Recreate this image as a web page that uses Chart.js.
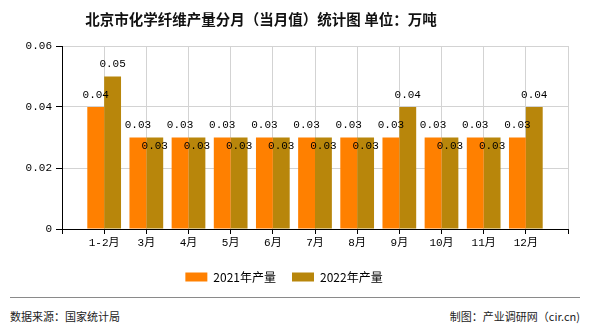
<!DOCTYPE html>
<html>
<head>
<meta charset="utf-8">
<script src="https://cdn.jsdelivr.net/npm/chart.js@4.4.1/dist/chart.umd.min.js"></script>
<style>
    body { margin: 0; width: 590px; height: 330px; background: #fff; position: relative; overflow: hidden; font-family: "Noto Sans CJK SC", sans-serif; }
    #title { position: absolute; left: 0; top: 8px; width: 522px; text-align: center; font-size: 14.5px; font-weight: bold; color: #111; }
    #wrap { position: absolute; left: 0; top: 0; width: 590px; height: 295px; }
    #sep { position: absolute; left: 10px; width: 570px; top: 297px; border-top: 1px solid #8a8a8a; }
    .foot { position: absolute; top: 308px; font-size: 11px; color: #222; line-height: 16px; }
</style>
</head>
<body>
<div id="wrap"><canvas id="chart" width="590" height="295"></canvas></div>
<div id="title">北京市化学纤维产量分月（当月值）统计图 单位：万吨</div>
<div id="sep"></div>
<div class="foot" style="left:10px">数据来源：国家统计局</div>
<div class="foot" style="right:10px">制图：产业调研网（cir.cn)</div>
<script>
// 数据
const categories = ['1-2月', '3月', '4月', '5月', '6月', '7月', '8月', '9月', '10月', '11月', '12月'];
const output2021 = [0.04, 0.03, 0.03, 0.03, 0.03, 0.03, 0.03, 0.03, 0.03, 0.03, 0.03];
const output2022 = [0.05, 0.03, 0.03, 0.03, 0.03, 0.03, 0.03, 0.04, 0.03, 0.03, 0.04];
const seriesNames = ['2021年产量', '2022年产量'];
const yTicks = [0, 0.02, 0.04, 0.06];

const colors = ['#FF8000', '#B8860B'];
const numFont = '"Liberation Mono", "Noto Sans CJK SC", monospace';

// 两端各留一个空位, 柱子落在刻度上
const labels = ['', ...categories, ''];
const pad = arr => [null, ...arr, null];

// 柱顶数值标签, 两个标签重叠时第二个放到柱内
const valueLabels = {
    id: 'valueLabels',
    afterDatasetsDraw(chart) {
        const ctx = chart.ctx;
        const d = chart.data.datasets;
        const m0 = chart.getDatasetMeta(0);
        const m1 = chart.getDatasetMeta(1);
        ctx.save();
        ctx.font = '11px ' + numFont;
        ctx.fillStyle = '#000';
        ctx.textAlign = 'center';
        ctx.textBaseline = 'middle';
        m0.data.forEach((bar, i) => {
            const v0 = d[0].data[i];
            const v1 = d[1].data[i];
            if (v0 == null) return;
            const b1 = m1.data[i];
            const y0 = bar.y - 12;
            let y1 = b1.y - 12;
            if (Math.abs(y1 - y0) < 12) y1 = b1.y + 9;
            ctx.fillText(v0.toFixed(2), bar.x, y0);
            ctx.fillText(v1.toFixed(2), b1.x, y1);
        });
        ctx.restore();
    }
};

new Chart(document.getElementById('chart'), {
    type: 'bar',
    data: {
        labels: labels,
        datasets: [
            { label: seriesNames[0], data: pad(output2021), backgroundColor: colors[0] },
            { label: seriesNames[1], data: pad(output2022), backgroundColor: colors[1] }
        ]
    },
    options: {
        responsive: false,
        animation: false,
        categoryPercentage: 0.8,
        barPercentage: 1.0,
        layout: { padding: { top: 46, right: 22, left: 0, bottom: 2 } },
        scales: {
            x: {
                offset: false,
                grid: { color: '#d3d3d3', tickColor: '#000', tickLength: 5, offset: false },
                border: { color: '#000' },
                ticks: { color: '#000', font: { size: 11, family: numFont }, padding: 2, maxRotation: 0, autoSkip: false },
                afterFit: s => { s.height = 26; }
            },
            y: {
                min: 0,
                max: 0.06,
                afterBuildTicks: s => { s.ticks = yTicks.map(v => ({ value: v })); },
                grid: { color: '#d3d3d3', tickColor: '#000', tickLength: 6 },
                border: { color: '#000' },
                ticks: {
                    color: '#000',
                    font: { size: 11, family: numFont },
                    padding: 4,
                    callback: v => v === 0 ? '0' : v.toFixed(2)
                },
                afterFit: s => { s.width = 62; }
            }
        },
        plugins: {
            legend: {
                position: 'bottom',
                labels: {
                    boxWidth: 22,
                    boxHeight: 9,
                    padding: 16,
                    color: '#000',
                    font: { size: 12, family: '"Noto Sans CJK SC", sans-serif' }
                }
            },
            tooltip: { enabled: false }
        }
    },
    plugins: [valueLabels]
});
</script>
</body>
</html>
